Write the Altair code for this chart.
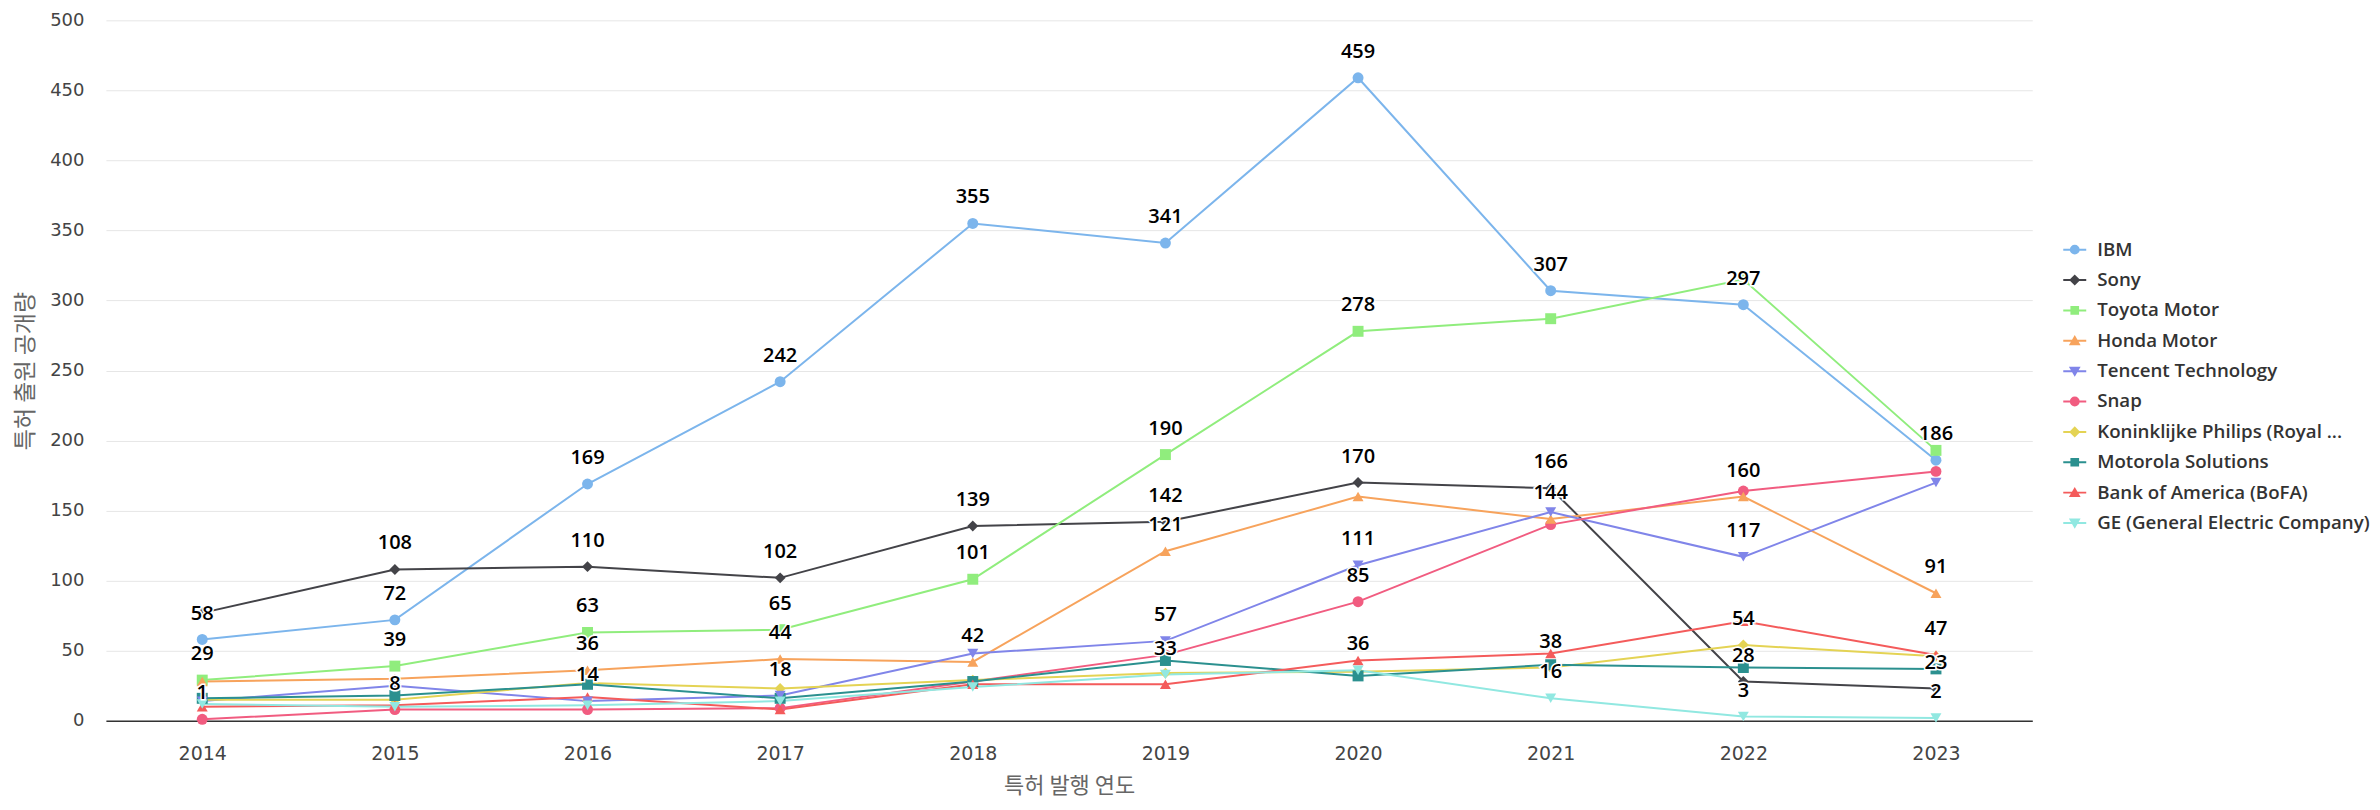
import altair as alt
import pandas as pd

years = [2014, 2015, 2016, 2017, 2018, 2019, 2020, 2021, 2022, 2023]
series = ["IBM", "Sony", "Toyota Motor", "Honda Motor", "Tencent Technology", "Snap",
          "Koninklijke Philips (Royal Philips)", "Motorola Solutions",
          "Bank of America (BoFA)", "GE (General Electric Company)"]
colors = ["#7cb5ec", "#434348", "#90ed7d", "#f7a35c", "#8085e9", "#f15c80",
          "#e4d354", "#2b908f", "#f45b5b", "#91e8e1"]

ibm = [58, 72, 169, 242, 355, 341, 459, 307, 297, 186]
sony = [77, 108, 110, 102, 139, 142, 170, 166, 28, 23]
toyota = [29, 39, 63, 65, 101, 190, 278, 287, 315, 193]
honda = [28, 30, 36, 44, 42, 121, 160, 144, 160, 91]
tencent = [14, 25, 14, 18, 48, 57, 111, 149, 117, 170]
snap = [1, 8, 8, 9, 28, 47, 85, 140, 164, 178]
philips = [15, 15, 27, 23, 29, 34, 35, 38, 54, 46]
motorola = [16, 18, 26, 16, 28, 43, 32, 40, 38, 37]
bofa = [10, 11, 17, 8, 26, 26, 43, 48, 71, 47]
ge = [12, 10, 11, 14, 24, 33, 36, 16, 3, 2]

values = [ibm, sony, toyota, honda, tencent, snap, philips, motorola, bofa, ge]

# years whose value label is visible in the reference (others are hidden by overlap)
labeled_years = [
    [2014, 2015, 2016, 2017, 2018, 2019, 2020, 2021, 2022, 2023],
    [2015, 2016, 2017, 2018, 2019, 2020, 2021, 2022, 2023],
    [2014, 2015, 2016, 2017, 2018, 2019, 2020],
    [2016, 2017, 2018, 2019, 2021, 2022, 2023],
    [2016, 2017, 2019, 2020, 2022],
    [2014, 2015, 2020],
    [2021, 2022],
    [],
    [2023],
    [2019, 2020, 2021, 2022, 2023],
]

marker_shapes = ["circle", "diamond", "square", "triangle-up", "triangle-down",
                 "circle", "diamond", "square", "triangle-up", "triangle-down"]


# legend symbol: a line with a marker drawn as nested outlines (stroke only, looks filled)
def rings_circle(radii):
    return "".join(f"M{-r},0A{r},{r},0,1,1,{r},0A{r},{r},0,1,1,{-r},0Z" for r in radii)


def rings_poly(pts, cx, cy, ks):
    out = ""
    for k in ks:
        p = [(cx + (x - cx) * k, cy + (y - cy) * k) for x, y in pts]
        out += "M" + "L".join(f"{x:.3f},{y:.3f}" for x, y in p) + "Z"
    return out


line = "M-1,0L1,0"
ks = [1.0, 0.6, 0.25, 0.05]
legend_paths = {
    "circle": line + rings_circle([0.34, 0.2, 0.07]),
    "diamond": line + rings_poly([(0, -0.36), (0.36, 0), (0, 0.36), (-0.36, 0)], 0, 0, ks),
    "square": line + rings_poly([(-0.29, -0.29), (0.29, -0.29), (0.29, 0.29), (-0.29, 0.29)], 0, 0, ks),
    "triangle-up": line + rings_poly([(0, -0.32), (0.36, 0.3), (-0.36, 0.3)], 0, 0.09, ks),
    "triangle-down": line + rings_poly([(-0.36, -0.3), (0.36, -0.3), (0, 0.32)], 0, -0.09, ks),
}
legend_range = [legend_paths[s] for s in marker_shapes]

rows = []
for i, s in enumerate(series):
    for y, v in zip(years, values[i]):
        rows.append({"series": s, "name": s, "year": str(y), "value": v,
                     "show": y in labeled_years[i], "shape": marker_shapes[i]})
df = pd.DataFrame(rows)

FONT = "DejaVu Sans"
KFONT = "Noto Sans CJK KR"

x_enc = alt.X("year:O", scale=alt.Scale(type="point", padding=0.5),
              axis=alt.Axis(title="특허 발행 연도", labelAngle=0, ticks=False,
                            domainColor="#333333", domainWidth=1.5,
                            labelFont=FONT, labelFontSize=19, labelColor="#444444",
                            labelPadding=24, titleFont=KFONT, titleFontSize=22,
                            titleColor="#666666", titleFontWeight="normal",
                            titlePadding=12, grid=False))
y_enc = alt.Y("value:Q", scale=alt.Scale(domain=[0, 500], nice=False),
              axis=alt.Axis(title="특허 출원 공개량", values=list(range(0, 501, 50)),
                            ticks=False, domain=False, gridColor="#e6e6e6",
                            labelFont=FONT, labelFontSize=18, labelColor="#444444",
                            labelPadding=22, titleFont=KFONT, titleFontSize=23,
                            titleColor="#666666", titleFontWeight="normal",
                            titlePadding=12))

color_scale = alt.Scale(domain=series, range=colors)
leg = alt.Legend(title=None, orient="none", legendX=1958, legendY=217,
                 labelFont="Open Sans", labelFontSize=18.7, labelFontWeight=600,
                 labelColor="#333333",
                 symbolSize=529, symbolStrokeWidth=2, rowPadding=7.4,
                 labelOffset=10, labelLimit=400,
                 labelExpr="length(datum.label) > 30 ? slice(datum.label, 0, 27) + '...' : datum.label")

base = alt.Chart(df)

lines = base.mark_line(strokeWidth=2).encode(
    x=x_enc, y=y_enc,
    color=alt.Color("series:N", scale=color_scale, legend=None),
    detail="series:N",
)

marker_layers = []
for shp in ["circle", "diamond", "square", "triangle-up", "triangle-down"]:
    marker_layers.append(
        base.transform_filter(alt.datum.shape == shp).mark_point(
            shape=shp, filled=True, size=120, opacity=1).encode(
            x=x_enc, y=y_enc,
            color=alt.Color("series:N", scale=color_scale, legend=None),
        )
    )

legend_layer = base.mark_point(filled=False, opacity=0).encode(
    x=x_enc, y=y_enc,
    stroke=alt.Stroke("name:N", scale=alt.Scale(domain=series, range=colors), legend=leg),
    shape=alt.Shape("name:N", scale=alt.Scale(domain=series, range=legend_range), legend=leg),
)

lab = base.transform_filter(alt.datum.show == True)
halo = lab.mark_text(font="Open Sans", fontSize=20, fontWeight=600, dy=-26,
                     stroke="white", strokeWidth=3, fill="white",
                     baseline="middle").encode(x=x_enc, y=y_enc, text="value:Q")
texts = lab.mark_text(font="Open Sans", fontSize=20, fontWeight=600, dy=-26,
                      color="#000000", baseline="middle").encode(
    x=x_enc, y=y_enc, text="value:Q")

chart = alt.layer(lines, *marker_layers, legend_layer, halo, texts).resolve_scale(
    color="independent", shape="independent", stroke="independent"
).properties(
    width=1928, height=701,
    autosize=alt.AutoSizeParams(type="none"),
    padding={"left": 98, "top": 12, "right": 340, "bottom": 80},
).configure_view(stroke=None)

chart.save("out.html", embed_options={"renderer": "svg", "actions": False})
